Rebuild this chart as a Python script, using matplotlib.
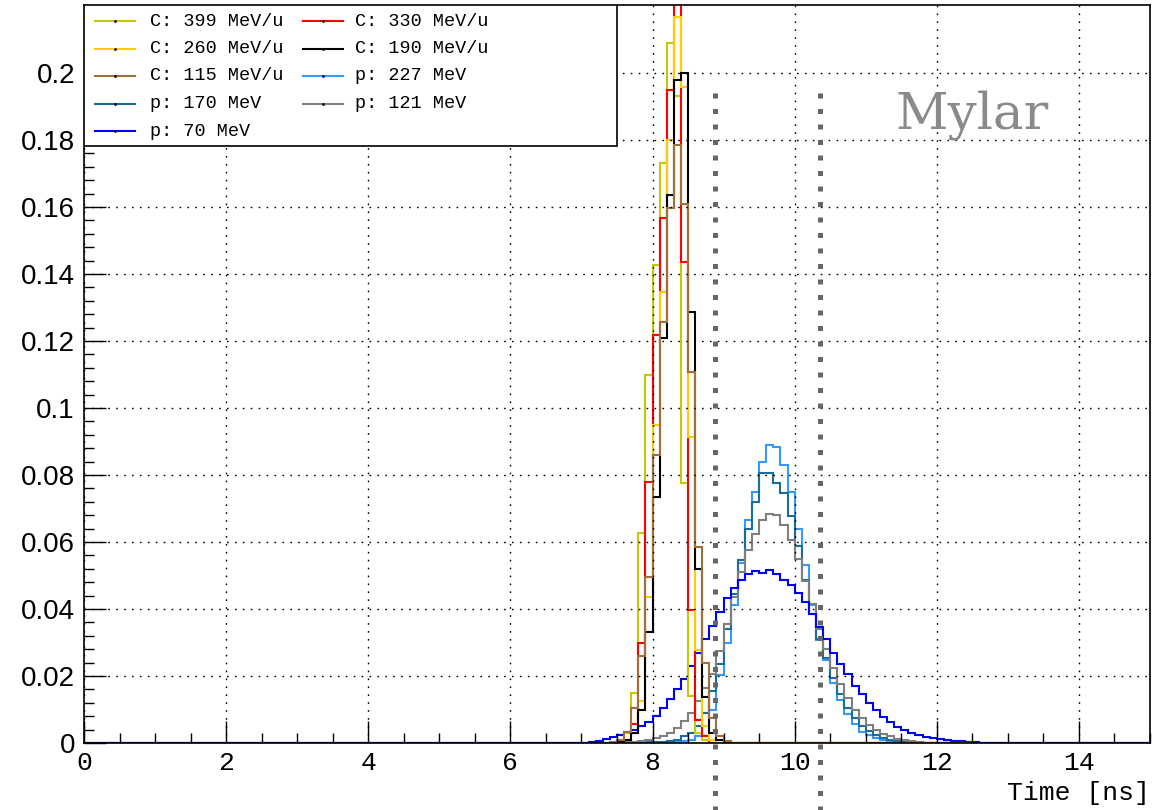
import numpy as np
import matplotlib.pyplot as plt
from matplotlib.ticker import MultipleLocator, FuncFormatter
from matplotlib.lines import Line2D
from matplotlib.patches import Rectangle

# binning: 150 bins of 0.1 ns between 0 and 15 ns
bin_width = 0.1
edges = np.round(np.linspace(0, 15, 151), 3)

# carbon ions, normalised counts per bin starting at 7.5 ns
c_start = 7.5
c399 = [0.0005, 0.003, 0.015, 0.0626, 0.110, 0.1427, 0.173, 0.209, 0.193, 0.0775, 0.014, 0.003, 0.001]
c330 = [0.0005, 0.001, 0.0057, 0.030, 0.078, 0.1218, 0.1568, 0.195, 0.226, 0.1437, 0.0397, 0.007, 0.002]
c260 = [0.0003, 0.001, 0.003, 0.0126, 0.0437, 0.0949, 0.1347, 0.180, 0.2166, 0.1957, 0.0914, 0.0278, 0.005, 0.001]
c190 = [0.0003, 0.001, 0.003, 0.0098, 0.033, 0.0735, 0.121, 0.1636, 0.1979, 0.2001, 0.1288, 0.052, 0.0138, 0.003, 0.0008]
c115 = [0.001, 0.0034, 0.0104, 0.026, 0.0497, 0.086, 0.1258, 0.1596, 0.1785, 0.1608, 0.1108, 0.0586, 0.0239, 0.0075, 0.002, 0.0005]
c_end = 12.5

# protons, normalised counts per bin starting at 7.0 ns
p_start = 7.0
p227 = [0, 0, 0, 0, 0, 0, 0, 0, 0, 0,
        0.0001, 0.0001, 0.0002, 0.0003, 0.0005, 0.001, 0.002, 0.005, 0.0098, 0.0203,
        0.0298, 0.0412, 0.0536, 0.0666, 0.0749, 0.084, 0.0889, 0.0885, 0.083, 0.075,
        0.0638, 0.0531, 0.0412, 0.0307, 0.0248, 0.0178, 0.0128, 0.0088, 0.0058, 0.0034,
        0.0024, 0.0015, 0.001, 0.0006, 0.0004, 0.0002]
p170 = [0, 0, 0, 0, 0, 0, 0, 0.0001, 0.0002, 0.0003,
        0.0003, 0.0004, 0.0005, 0.001, 0.002, 0.003, 0.005, 0.009, 0.0155, 0.0235,
        0.034, 0.0445, 0.0545, 0.064, 0.072, 0.0805, 0.0805, 0.0775, 0.0745, 0.0678,
        0.0588, 0.0487, 0.0385, 0.031, 0.0255, 0.0195, 0.0145, 0.0105, 0.0075, 0.005,
        0.0035, 0.0024, 0.0016, 0.001, 0.0006, 0.0004]
p121 = [0, 0, 0.0001, 0.0001, 0.0002, 0.0002, 0.0003, 0.0004, 0.0005, 0.001,
        0.0015, 0.002, 0.003, 0.0045, 0.0065, 0.009, 0.0125, 0.0165, 0.0205, 0.0275,
        0.0355, 0.0435, 0.051, 0.0575, 0.0625, 0.0665, 0.0685, 0.068, 0.065, 0.0605,
        0.055, 0.0485, 0.0415, 0.034, 0.028, 0.0225, 0.0175, 0.0135, 0.01, 0.0075,
        0.0055, 0.004, 0.0028, 0.002, 0.0013, 0.0009, 0.0006, 0.0004]
p70 = [0.0001, 0.0002, 0.0006, 0.0012, 0.0018, 0.0025, 0.0032, 0.004, 0.005, 0.0064,
       0.0082, 0.0105, 0.013, 0.016, 0.019, 0.023, 0.027, 0.031, 0.035, 0.039,
       0.0432, 0.0462, 0.0488, 0.0503, 0.0512, 0.0508, 0.0517, 0.0505, 0.0488, 0.0472,
       0.0448, 0.042, 0.0385, 0.0345, 0.031, 0.027, 0.0235, 0.0205, 0.017, 0.0145,
       0.012, 0.0098, 0.0078, 0.0062, 0.0049, 0.0039, 0.003, 0.0023, 0.0018, 0.0014,
       0.0011, 0.0008, 0.0006, 0.0005, 0.0003, 0.0002, 0.0001]

# timing window cuts
cuts = [8.88, 10.36]

labels_c = ['C: 399 MeV/u', 'C: 330 MeV/u', 'C: 260 MeV/u', 'C: 190 MeV/u', 'C: 115 MeV/u']
labels_p = ['p: 227 MeV', 'p: 170 MeV', 'p: 121 MeV', 'p: 70 MeV']
colors_c = ['#c8c800', '#ff0000', '#ffcc00', '#000000', '#a0703c']
colors_p = ['#3399ff', '#1a6e9e', '#7f7f7f', '#0000ff']


def bin_index(t):
    return int(round(t / bin_width))


def full_hist(start, vals, stop=15.0):
    h = np.zeros(bin_index(stop) - bin_index(start))
    h[:len(vals)] = vals
    return h


fig = plt.figure(figsize=(11.57, 8.10), dpi=100)
ax = fig.add_axes([84/1157, 67/810, 1066/1157, 738/810])

# protons over the full range, then carbon ions over their range
for vals, col in zip([p227, p170, p121, p70], colors_p):
    h = np.concatenate([np.zeros(bin_index(p_start)), full_hist(p_start, vals)])
    ax.stairs(h, edges, color=col, lw=1.5)
for vals, col in zip([c399, c330, c260, c190, c115], colors_c):
    h = full_hist(c_start, vals, c_end)
    ax.stairs(h, edges[bin_index(c_start):bin_index(c_end) + 1], color=col, lw=1.5)

# timing cuts, running down past the axis
for xc in cuts:
    ax.plot([xc, xc], [-0.021, 0.1955], color='#666666', lw=3.6,
            ls=(0, (1, 2.1)), dash_capstyle='butt', clip_on=False, zorder=5)

ax.set_xlim(0, 15)
ax.set_ylim(0, 0.2203)
ax.set_xticks(np.arange(0, 15, 2))
ax.xaxis.set_minor_locator(MultipleLocator(0.5))
ax.set_yticks(np.arange(0, 0.201, 0.02))
ax.yaxis.set_minor_locator(MultipleLocator(0.004))
ax.yaxis.set_major_formatter(FuncFormatter(lambda v, p: '%g' % round(v, 3)))
ax.tick_params(which='both', direction='in', top=False, right=False, width=1)
ax.tick_params(which='major', length=15.5)
ax.tick_params(which='minor', length=7)
ax.tick_params(axis='y', labelsize=20, pad=6.5)
ax.tick_params(axis='x', labelsize=19, pad=6)
for lab in ax.get_yticklabels():
    lab.set_family('Liberation Sans')
for lab in ax.get_xticklabels():
    lab.set_family('Liberation Mono')
ax.grid(True, which='major', color='black', lw=1.0, ls=(0, (1.2, 4.5)))
for sp in ax.spines.values():
    sp.set_linewidth(1.2)

ax.text(1.0, -0.068, 'Time [ns]', transform=ax.transAxes, ha='right', va='center',
        family='Liberation Mono', fontsize=19)
ax.text(0.761, 0.851, 'Mylar', transform=ax.transAxes, ha='left', va='center',
        family='DejaVu Serif', fontsize=37, color='#8a8a8a')

# legend box (two columns, row-major as in the original)
ax.add_patch(Rectangle((0, 0.809), 0.5, 0.191, transform=ax.transAxes, fill=True,
                       facecolor='white', edgecolor='black', lw=1.2, zorder=10))
entries = list(zip(labels_c + labels_p, colors_c + colors_p))
row_y = [722, 694.5, 667, 639.5, 612]
col_x = [(0.0103, 0.0478, 0.0619), (0.2054, 0.2430, 0.2542)]
for k, (lab, col) in enumerate(entries):
    r, c = divmod(k, 2)
    y = row_y[r] / 738
    x0, x1, xt = col_x[c]
    ax.add_line(Line2D([x0, x1], [y, y], transform=ax.transAxes, color=col, lw=1.5, zorder=11))
    ax.add_line(Line2D([(x0 + x1) / 2], [y], transform=ax.transAxes, color='black',
                       marker='.', ms=2, zorder=12))
    ax.text(xt, y, lab, transform=ax.transAxes, ha='left', va='center',
            family='Liberation Mono', fontsize=13.3, zorder=12)

fig.savefig('out.png', dpi=100)
